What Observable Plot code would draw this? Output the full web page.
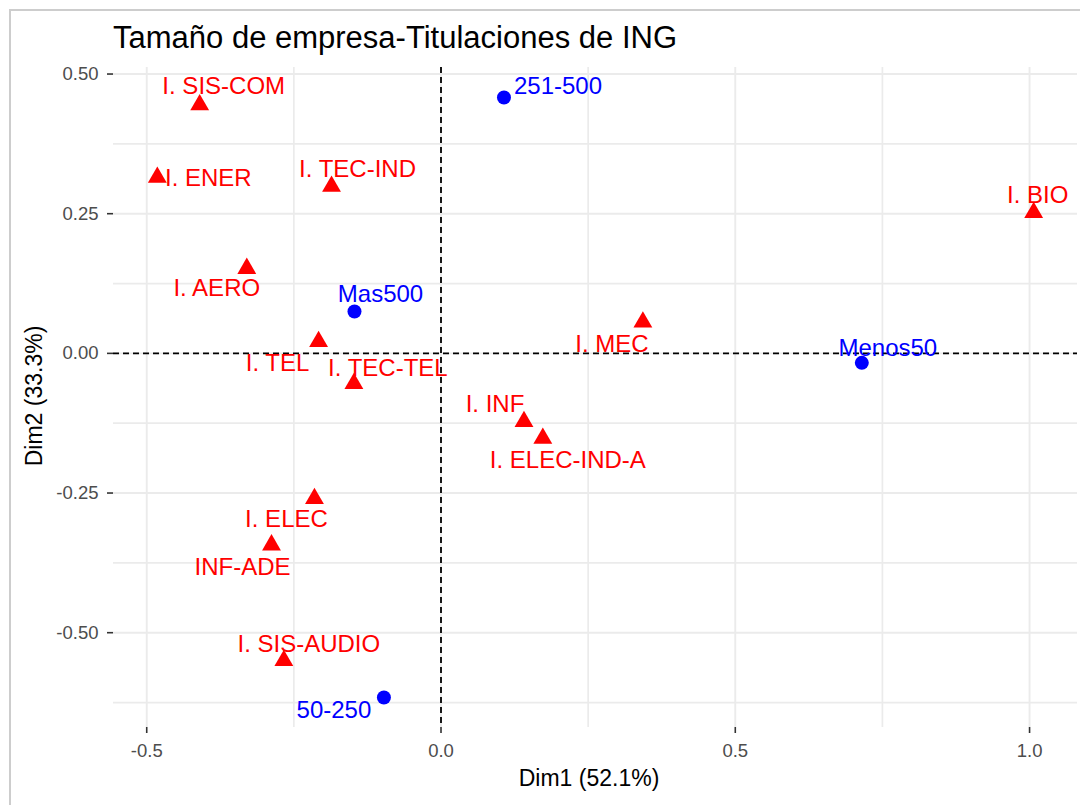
<!DOCTYPE html>
<html>
<head>
<meta charset="utf-8">
<script src="https://cdn.jsdelivr.net/npm/d3@7"></script>
<script src="https://cdn.jsdelivr.net/npm/@observablehq/plot@0.6"></script>
<style>
  body { margin: 0; background: #ffffff; font-family: "Liberation Sans", Arial, sans-serif; }
  #wrap { position: relative; width: 1080px; height: 805px; overflow: hidden; background: #ffffff; }
  #frame { position: absolute; left: 9px; top: 9px; width: 1300px; height: 1000px;
           border-left: 2px solid #cdcdcd; border-top: 2px solid #cdcdcd; }
  #chart { position: absolute; left: 0; top: 0; }
  .ttl { position: absolute; white-space: nowrap; line-height: 1; color: #000000; }
  #title { left: 113px; top: 22px; font-size: 31px; }
  #xlab { left: 589px; top: 767px; font-size: 23px; transform: translateX(-50%); }
  #ylab { left: 33.5px; top: 396px; font-size: 23px; transform: translate(-50%, -50%) rotate(-90deg); }
</style>
</head>
<body>
<div id="wrap">
  <div id="frame"></div>
  <div id="chart"></div>
  <div class="ttl" id="title">Tamaño de empresa-Titulaciones de ING</div>
  <div class="ttl" id="xlab">Dim1 (52.1%)</div>
  <div class="ttl" id="ylab">Dim2 (33.3%)</div>
</div>
<script>
// ---- Data ----
// Row points: titulaciones (red triangles)
const rowNames = ["I. SIS-COM", "I. ENER", "I. TEC-IND", "I. BIO", "I. AERO", "I. TEL", "I. TEC-TEL",
                  "I. MEC", "I. INF", "I. ELEC-IND-A", "I. ELEC", "INF-ADE", "I. SIS-AUDIO"];
const rowDim1 = [-0.410, -0.482, -0.186, 1.007, -0.330, -0.208, -0.148, 0.343, 0.141, 0.173, -0.215, -0.288, -0.267];
const rowDim2 = [0.445, 0.315, 0.299, 0.252, 0.152, 0.021, -0.054, 0.056, -0.122, -0.152, -0.260, -0.343, -0.550];

// Column points: tamaño de empresa (blue circles)
const colNames = ["251-500", "Mas500", "Menos50", "50-250"];
const colDim1 = [0.107, -0.147, 0.715, -0.097];
const colDim2 = [0.458, 0.075, -0.017, -0.616];

// Axis ticks
const xTicks = [-0.5, 0.0, 0.5, 1.0];
const xTickLabels = ["-0.5", "0.0", "0.5", "1.0"];
const xMinor = [-0.25, 0.25, 0.75];
const yTicks = [-0.5, -0.25, 0.0, 0.25, 0.5];
const yTickLabels = ["-0.50", "-0.25", "0.00", "0.25", "0.50"];
const yMinor = [-0.625, -0.375, -0.125, 0.125, 0.375];

// ---- Layout config: repelled label nudges (pixels) ----
const labelNudge = {
  "251-500": [54, -11], "Mas500": [26, -17], "Menos50": [26, -15], "50-250": [-50, 13],
  "I. SIS-COM": [24, -18], "I. ENER": [51, 1], "I. TEC-IND": [26, -17], "I. BIO": [4, -17],
  "I. AERO": [-30, 20], "I. TEL": [-41, 22], "I. TEC-TEL": [34, -15], "I. MEC": [-31, 22],
  "I. INF": [-29, -17], "I. ELEC-IND-A": [25, 22], "I. ELEC": [-28, 21], "INF-ADE": [-29, 22],
  "I. SIS-AUDIO": [25, -16]
};

const rows = rowNames.map((n, i) => ({name: n, x: rowDim1[i], y: rowDim2[i]}));
const cols = colNames.map((n, i) => ({name: n, x: colDim1[i], y: colDim2[i]}));
const all = rows.concat(cols);

function expand(ext) { const d = (ext[1] - ext[0]) * 0.05; return [ext[0] - d, ext[1] + d]; }
const xDomain = expand(d3.extent(all, d => d.x));
const yDomain = expand(d3.extent(all, d => d.y));

const RED = "#FF0000", BLUE = "#0000FF";

const labelMarks = [];
for (const d of rows) {
  const [dx, dy] = labelNudge[d.name];
  labelMarks.push(Plot.text([d], {x: "x", y: "y", text: "name", dx, dy, fill: RED, fontSize: 24,
    textAnchor: "middle", lineAnchor: "middle"}));
}
for (const d of cols) {
  const [dx, dy] = labelNudge[d.name];
  labelMarks.push(Plot.text([d], {x: "x", y: "y", text: "name", dx, dy, fill: BLUE, fontSize: 24,
    textAnchor: "middle", lineAnchor: "middle"}));
}

const chart = Plot.plot({
  width: 1080,
  height: 805,
  marginLeft: 113,
  marginRight: 3,
  marginTop: 67,
  marginBottom: 78,
  x: {domain: xDomain},
  y: {domain: yDomain},
  style: {fontFamily: "'Liberation Sans', Arial, sans-serif", background: "transparent", overflow: "visible"},
  marks: [
    Plot.ruleX(xMinor, {stroke: "#ebebeb", strokeWidth: 1.7}),
    Plot.ruleY(yMinor, {stroke: "#ebebeb", strokeWidth: 1.7}),
    Plot.ruleX(xTicks, {stroke: "#ebebeb", strokeWidth: 1.9}),
    Plot.ruleY(yTicks, {stroke: "#ebebeb", strokeWidth: 1.9}),
    Plot.ruleX([0], {stroke: "#000000", strokeWidth: 1.8, strokeDasharray: "6,4"}),
    Plot.ruleY([0], {stroke: "#000000", strokeWidth: 1.8, strokeDasharray: "6,4"}),
    Plot.axisX(xTicks, {tickFormat: d => xTickLabels[xTicks.indexOf(d)], tickSize: 6, tickPadding: 10,
      fontSize: 18.5, fill: "#4D4D4D", stroke: "#333333", strokeWidth: 1.6, label: null}),
    Plot.axisY(yTicks, {tickFormat: d => yTickLabels[yTicks.indexOf(d)], tickSize: 6, tickPadding: 9,
      fontSize: 18.5, fill: "#4D4D4D", stroke: "#333333", strokeWidth: 1.6, label: null}),
    ...labelMarks,
    Plot.dot(rows, {x: "x", y: "y", r: 7, symbol: "triangle", fill: RED}),
    Plot.dot(cols, {x: "x", y: "y", r: 7, symbol: "circle", fill: BLUE})
  ]
});
document.getElementById("chart").appendChild(chart);
</script>
</body>
</html>
